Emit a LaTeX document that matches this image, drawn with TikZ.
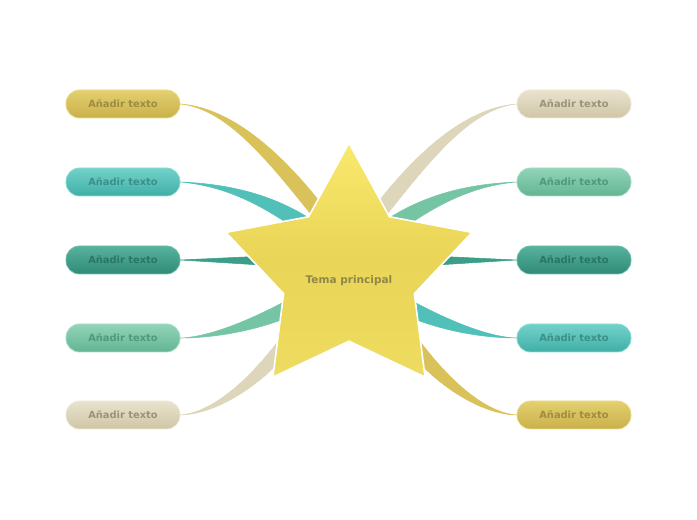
\documentclass[tikz,border=0pt]{standalone}
\usepackage{fontspec}
\setmainfont{DejaVu Sans}
\usetikzlibrary{calc}

\definecolor{goldT}{HTML}{E4D070}
\definecolor{goldB}{HTML}{C9B04A}
\definecolor{goldE}{HTML}{EADB8E}
\definecolor{goldX}{HTML}{9E8C42}
\definecolor{goldL}{HTML}{D9C25A}
\definecolor{tealT}{HTML}{72D2CA}
\definecolor{tealB}{HTML}{40AFA7}
\definecolor{tealE}{HTML}{8EDCD6}
\definecolor{tealX}{HTML}{3A9189}
\definecolor{tealL}{HTML}{50C0B8}
\definecolor{deepT}{HTML}{57B39D}
\definecolor{deepB}{HTML}{2F8A76}
\definecolor{deepE}{HTML}{6FC0AC}
\definecolor{deepX}{HTML}{2A7564}
\definecolor{deepL}{HTML}{3B9E88}
\definecolor{mintT}{HTML}{92D4B8}
\definecolor{mintB}{HTML}{62B592}
\definecolor{mintE}{HTML}{A8DDC6}
\definecolor{mintX}{HTML}{4E9A7B}
\definecolor{mintL}{HTML}{75C5A5}
\definecolor{sandT}{HTML}{E9E3CE}
\definecolor{sandB}{HTML}{CFC6A6}
\definecolor{sandE}{HTML}{EEE9D8}
\definecolor{sandX}{HTML}{9A9379}
\definecolor{sandL}{HTML}{DDD6BA}
\definecolor{starT}{HTML}{F9E96C}
\definecolor{starM}{HTML}{E9D557}
\definecolor{starB}{HTML}{EEDC60}
\definecolor{mainX}{HTML}{8F8748}

\tikzset{every picture/.style={line width=0.75pt}}
\tikzset{
  topic/.style={rounded corners=10pt, minimum width=85.5pt, minimum height=21pt,
    inner sep=0pt, line width=0.6pt, font=\fontsize{7.4}{9}\selectfont\bfseries},
  goldbox/.style={topic, top color=goldT, bottom color=goldB, draw=goldE, text=goldX},
  tealbox/.style={topic, top color=tealT, bottom color=tealB, draw=tealE, text=tealX},
  deepbox/.style={topic, top color=deepT, bottom color=deepB, draw=deepE, text=deepX},
  mintbox/.style={topic, top color=mintT, bottom color=mintB, draw=mintE, text=mintX},
  sandbox/.style={topic, top color=sandT, bottom color=sandB, draw=sandE, text=sandX},
  branch/.style={line width=0.4pt}
}

\begin{document}
\begin{tikzpicture}[x=0.75pt,y=0.75pt,yscale=-1,xscale=1]
\useasboundingbox (0,0) rectangle (697,520);

\coordinate (hub) at (349,272);

% Topics, left column
\node[goldbox] (l1) at (123,104) {Añadir texto};
\node[tealbox] (l2) at (123,182) {Añadir texto};
\node[deepbox] (l3) at (123,260) {Añadir texto};
\node[mintbox] (l4) at (123,338) {Añadir texto};
\node[sandbox] (l5) at (123,415) {Añadir texto};
% Topics, right column
\node[sandbox] (r1) at (574,104) {Añadir texto};
\node[mintbox] (r2) at (574,182) {Añadir texto};
\node[deepbox] (r3) at (574,260) {Añadir texto};
\node[tealbox] (r4) at (574,338) {Añadir texto};
\node[goldbox] (r5) at (574,415) {Añadir texto};

% Branches, left
\filldraw[branch, goldL] (l1.east) .. controls +(55,4) and +(-45,-62) .. ($(hub)+(-14,-50)$)
  -- ($(hub)+(-27,-44)$) .. controls +(-47,-58) and +(50,5) .. (l1.east);
\filldraw[branch, tealL] (l2.east) .. controls +(50,2) and +(-40,-27) .. ($(hub)+(-34,-50)$)
  -- ($(hub)+(-49,-40)$) .. controls +(-38,-27) and +(45,4) .. (l2.east);
\filldraw[branch, deepL] (l3.east) -- ($(hub)+(-40,-18)$) -- ($(hub)+(-40,-4)$) -- (l3.east);
\filldraw[branch, mintL] (l4.east) .. controls +(35,-1) and +(-35,20) .. ($(hub)+(-47,20)$)
  -- ($(hub)+(-45,38)$) .. controls +(-35,18) and +(40,0) .. (l4.east);
\filldraw[branch, sandL] (l5.east) .. controls +(35,-3) and +(-35,50) .. ($(hub)+(-59,53)$)
  -- ($(hub)+(-49,63)$) .. controls +(-20,35) and +(45,-1) .. (l5.east);

% Branches, right
\filldraw[branch, sandL] (r1.west) .. controls +(-55,4) and +(45,-62) .. ($(hub)+(14,-50)$)
  -- ($(hub)+(27,-44)$) .. controls +(47,-58) and +(-50,5) .. (r1.west);
\filldraw[branch, mintL] (r2.west) .. controls +(-50,2) and +(40,-27) .. ($(hub)+(34,-50)$)
  -- ($(hub)+(49,-40)$) .. controls +(38,-27) and +(-45,4) .. (r2.west);
\filldraw[branch, deepL] (r3.west) -- ($(hub)+(40,-18)$) -- ($(hub)+(40,-4)$) -- (r3.west);
\filldraw[branch, tealL] (r4.west) .. controls +(-35,-1) and +(35,20) .. ($(hub)+(47,20)$)
  -- ($(hub)+(45,38)$) .. controls +(35,18) and +(-40,0) .. (r4.west);
\filldraw[branch, goldL] (r5.west) .. controls +(-35,-3) and +(35,50) .. ($(hub)+(59,53)$)
  -- ($(hub)+(49,63)$) .. controls +(20,35) and +(-45,-1) .. (r5.west);

% Central star
\filldraw[top color=starT, bottom color=starB, middle color=starM, draw=white, line width=1.2pt]
  (349,143) -- (389.4,216.7) -- (472.1,232.4) -- (414.4,293.7) -- (425.1,377.1)
  -- (349,341.2) -- (272.9,377.1) -- (283.6,293.7) -- (225.9,232.4) -- (308.6,216.7) -- cycle;
\node[font=\fontsize{7.9}{10}\selectfont\bfseries, text=mainX] (main) at (349,281) {Tema principal};

\end{tikzpicture}
\end{document}
